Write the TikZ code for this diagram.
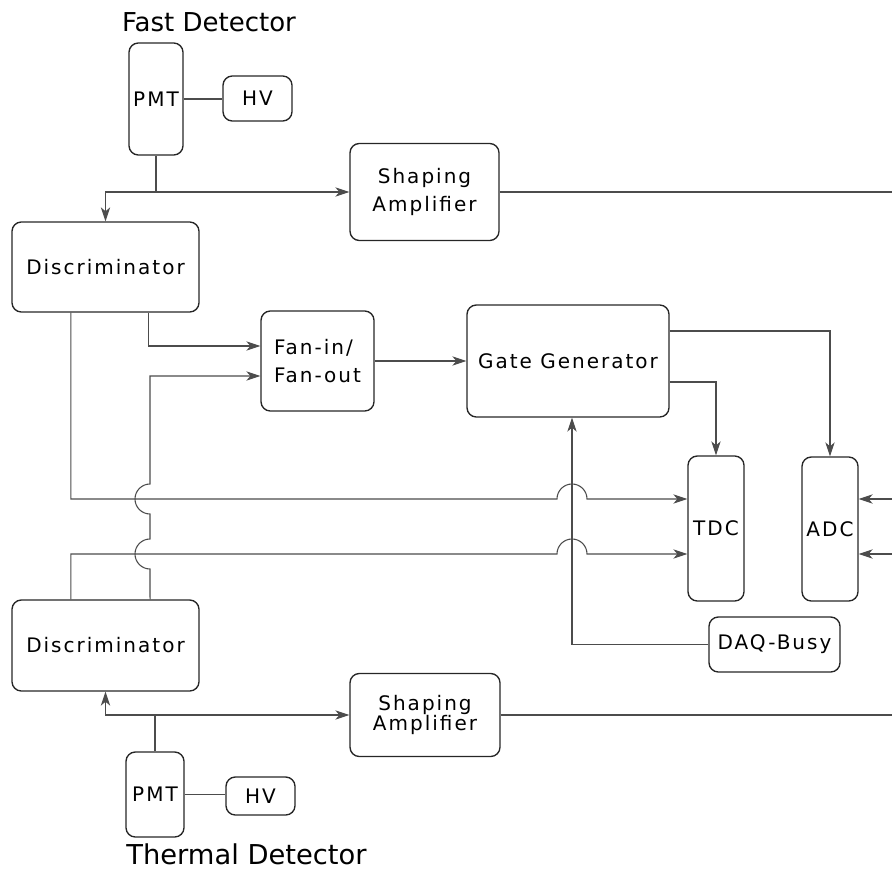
\documentclass[tikz,border=0pt]{standalone}
\usepackage{fontspec}
\setmainfont{DejaVu Sans}
\newfontfamily\boxfont[LetterSpace=10]{DejaVu Sans}
\usetikzlibrary{arrows.meta}
\begin{document}
\begin{tikzpicture}[x=0.75pt,y=-0.75pt,
        box/.style={draw=black!85,line width=1pt,rounded corners=7pt,
            inner sep=0pt,align=center,
            font=\boxfont\fontsize{15}{21}\selectfont},
        label/.style={inner sep=0pt,font=\fontsize{19.5}{22}\selectfont},
        wire/.style={draw=black!70,line width=0.8pt},
        sig/.style={wire,-{Stealth[length=10.5pt,width=7pt,inset=3pt]}}]
\useasboundingbox (0,0) rectangle (892,870);

% fast detector side
\node[label] (fast) at (209,22) {Fast Detector};
\node[box,minimum width=40.5pt,minimum height=84pt] (pmtF) at (156,99) {PMT};
\node[box,minimum width=51.75pt,minimum height=33.75pt] (hvF) at (257.5,98.5) {HV};
\node[box,minimum width=111.75pt,minimum height=72.75pt] (ampF) at (424.5,192) {Shaping\\Amplifier};
\node[box,minimum width=140.25pt,minimum height=67.5pt] (discF) at (105.5,267) {Discriminator};

% logic
\node[box,align=left,minimum width=84.75pt,minimum height=75pt] (fan) at (317.5,361) {Fan-in/\\Fan-out};
\node[box,minimum width=151.5pt,minimum height=84pt] (gate) at (568,361) {Gate Generator};
\node[box,minimum width=42pt,minimum height=108.75pt] (tdc) at (716,528.5) {TDC};
\node[box,minimum width=42pt,minimum height=108pt] (adc) at (830,529) {ADC};
\node[box,minimum width=98.25pt,minimum height=41.25pt] (busy) at (774.5,644.5) {DAQ-Busy};

% thermal detector side
\node[box,minimum width=140.25pt,minimum height=68.25pt] (discT) at (105.5,645.5) {Discriminator};
\node[box,minimum width=112.5pt,minimum height=62.25pt,
    font=\boxfont\fontsize{15}{15}\selectfont] (ampT) at (425,715) {Shaping\\Amplifier};
\node[box,minimum width=43.5pt,minimum height=63.75pt] (pmtT) at (155,794.5) {PMT};
\node[box,minimum width=51.75pt,minimum height=28.5pt] (hvT) at (260.5,796) {HV};
\node[label,font=\fontsize{20.5}{22}\selectfont] (thermal) at (246.5,854) {Thermal Detector};

\coordinate (edge) at (892,0);
\coordinate (inA) at (892,499);
\coordinate (inB) at (892,554);

\draw[wire] (pmtF.east) -- (pmtF.east -| hvF.west);
\coordinate (jF) at (pmtF.south |- ampF.west);
\draw[wire] (pmtF.south) -- (jF);
\draw[sig] (jF) -| (discF.north);
\draw[sig] (jF) -- (ampF.west);
\draw[wire] (ampF.east) -- (ampF.east -| edge);

\draw[sig] ([xshift=32pt]discF.south) |- ([yshift=11.25pt]fan.west);
\draw[sig] ([xshift=-26pt]discF.south) |- (557,499)
    arc[start angle=180,end angle=0,radius=11.25pt] -- ([yshift=22.125pt]tdc.west);
\draw[sig] ([xshift=-26pt]discT.north) |- (557,554)
    arc[start angle=180,end angle=0,radius=11.25pt] -- ([yshift=-19.125pt]tdc.west);
\draw[sig] ([xshift=33.4pt]discT.north) -- (150,569)
    arc[start angle=270,end angle=90,radius=11.25pt] -- (150,514)
    arc[start angle=270,end angle=90,radius=11.25pt] |- ([yshift=-11.25pt]fan.west);

\draw[sig] (fan.east) -- (gate.west);
\draw[sig] ([yshift=-15.75pt]gate.east) -| (tdc.north);
\draw[sig] ([yshift=22.5pt]gate.east) -| (adc.north);
\draw[sig] (busy.west) -| ([xshift=3pt]gate.south);
\draw[sig] (inA) -- ([yshift=22.5pt]adc.east);
\draw[sig] (inB) -- ([yshift=-18.75pt]adc.east);

\coordinate (jT) at (pmtT.north |- ampT.west);
\draw[wire] (pmtT.north) -- (jT);
\draw[sig] (jT) -| (discT.south);
\draw[sig] (jT) -- (ampT.west);
\draw[wire] (ampT.east) -- (ampT.east -| edge);
\draw[wire] (pmtT.east) -- (pmtT.east -| hvT.west);
\end{tikzpicture}
\end{document}
